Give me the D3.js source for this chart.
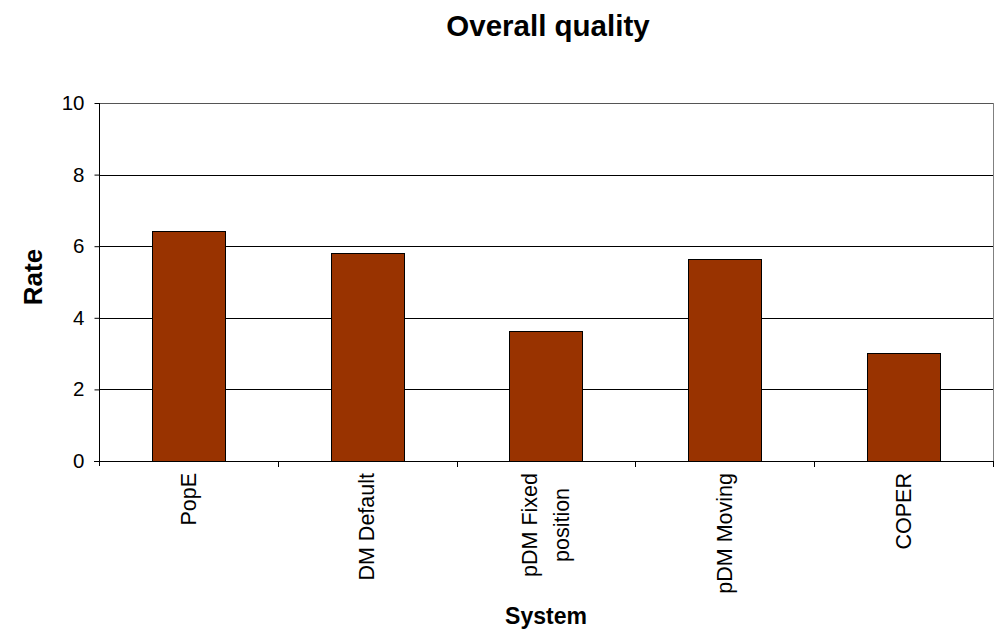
<!DOCTYPE html>
<html>
<head>
<meta charset="utf-8">
<script src="https://cdn.jsdelivr.net/npm/d3@7"></script>
<style>
  html, body { margin: 0; padding: 0; background: #fff; }
  svg { display: block; font-family: "Liberation Sans", Arial, sans-serif; }
</style>
</head>
<body>
<svg id="chart" width="994" height="631"></svg>
<script>
const categories = ["PopE", "DM Default", "pDM Fixed\nposition", "pDM Moving", "COPER"];
const values = [6.42, 5.81, 3.64, 5.64, 3.02];
const yTicks = [0, 2, 4, 6, 8, 10];
const chartTitle = "Overall quality";
const xTitle = "System";
const yTitle = "Rate";

(function () {
const svg = d3.select("#chart");
const pL = 99, pR = 993, pT = 103, pB = 461;

const x = d3.scaleBand().domain(categories).range([pL, pR]).padding(0);
const y = d3.scaleLinear().domain([0, 10]).range([pB, pT]);

// gridlines
svg.append("g").selectAll("line").data(yTicks.filter(d => d > 0)).join("line")
  .attr("x1", pL).attr("x2", pR)
  .attr("y1", d => Math.round(y(d)) + 0.5).attr("y2", d => Math.round(y(d)) + 0.5)
  .attr("stroke", d => d === 10 ? "#555" : "#000").attr("stroke-width", 1);

// right border
svg.append("line").attr("x1", pR + 0.5).attr("x2", pR + 0.5)
  .attr("y1", pT).attr("y2", pB).attr("stroke", "#808080");

// bars
const bw = x.bandwidth() * 0.41;
svg.append("g").selectAll("rect").data(categories).join("rect")
  .attr("x", d => Math.round(x(d) + x.bandwidth() / 2 - bw / 2) + 0.5)
  .attr("y", (d, i) => Math.round(y(values[i])) + 0.5)
  .attr("width", Math.round(bw))
  .attr("height", (d, i) => Math.round(y(0)) - Math.round(y(values[i])))
  .attr("fill", "#993300").attr("stroke", "#000").attr("stroke-width", 1);

// y axis
const yAxis = d3.axisLeft(y).tickValues(yTicks).tickSize(5).tickPadding(10);
const gy = svg.append("g").attr("transform", `translate(${pL + 0.5},0)`).call(yAxis);
gy.select(".domain").attr("d", `M0,${pT}V${pB + 5}`).attr("stroke", "#000");
gy.selectAll(".tick line").attr("stroke", "#000");
gy.selectAll(".tick text").attr("font-size", 20.5).attr("fill", "#000")
  .attr("font-family", "Liberation Sans, Arial, sans-serif");

// x axis line and ticks
svg.append("line").attr("x1", pL - 5).attr("x2", pR)
  .attr("y1", Math.round(y(0)) + 0.5).attr("y2", Math.round(y(0)) + 0.5).attr("stroke", "#000");
const bounds = categories.map(d => x(d)).concat([pR]);
svg.append("g").selectAll("line").data(bounds.slice(1)).join("line")
  .attr("x1", d => Math.round(d) + 0.5).attr("x2", d => Math.round(d) + 0.5)
  .attr("y1", Math.round(y(0))).attr("y2", Math.round(y(0)) + 6).attr("stroke", "#000");

// x labels (rotated)
const labelTop = 473;
const fs = 21.5, lineGap = 32;
categories.forEach(c => {
  const lines = c.split("\n");
  const cx = x(c) + x.bandwidth() / 2;
  const g = svg.append("g").attr("transform", `translate(${cx},${labelTop}) rotate(-90)`);
  const t = g.append("text").attr("font-size", fs).attr("fill", "#000").attr("text-anchor", "middle");
  const spans = lines.map((ln, i) => t.append("tspan")
    .attr("y", (i - (lines.length - 1) / 2) * lineGap + fs * 0.33).text(ln));
  const L = d3.max(spans, s => s.node().getComputedTextLength());
  spans.forEach(s => s.attr("x", -L / 2));
});

// titles
svg.append("text").attr("x", 548).attr("y", 36).attr("text-anchor", "middle")
  .attr("font-size", 29.5).attr("font-weight", "bold").text(chartTitle);
svg.append("text").attr("x", 546).attr("y", 624).attr("text-anchor", "middle")
  .attr("font-size", 23).attr("font-weight", "bold").text(xTitle);
svg.append("text").attr("transform", "translate(42,277) rotate(-90)").attr("text-anchor", "middle")
  .attr("font-size", 26).attr("font-weight", "bold").text(yTitle);
})();
</script>
</body>
</html>
